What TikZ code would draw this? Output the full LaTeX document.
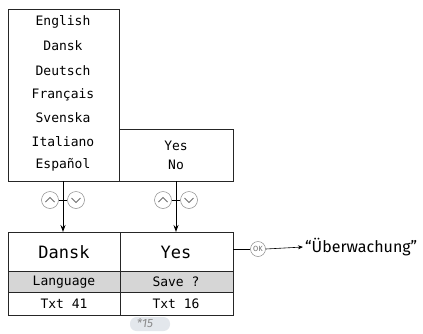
\documentclass[tikz,border=0pt]{standalone}
\usepackage{fontspec}
\setmainfont{Fira Sans}
\newfontfamily\lcd{DejaVu Sans Mono}
\usetikzlibrary{arrows.meta}
\definecolor{greyrow}{HTML}{D6D6D6}
\definecolor{circ}{HTML}{8A8A8A}
\definecolor{pill}{HTML}{E3E7EC}
\tikzset{
  box/.style={draw=black!85, line width=0.9pt},
  lcdtxt/.style={font=\lcd\fontsize{13}{13}\selectfont, inner sep=0pt},
  lcdbig/.style={font=\lcd\fontsize{17}{17}\selectfont, inner sep=0pt},
  btn/.style={circle, draw=circ, line width=0.5pt, minimum size=17pt, inner sep=0pt},
  arr/.style={-{Stealth[length=7pt,width=5pt]}, line width=0.9pt},
  thinarr/.style={-{Stealth[length=5pt,width=4pt]}, line width=0.6pt}
}
\begin{document}
\begin{tikzpicture}[x=1pt,y=-1pt]
\useasboundingbox (0,0) rectangle (423,333);
% top boxes
\draw[box] (8,9) rectangle (119,181);
\draw[box] (119,129) rectangle (233,181);
\coordinate (lb) at (63,181);
\coordinate (rb) at (176,181);
\foreach \t/\y in {English/22,Dansk/46,Deutsch/71,Français/95,Svenska/118,Italiano/142,Español/165}
  \node[lcdtxt] (l-\t) at (63,\y) {\t};
\node[lcdtxt] (yes) at (176,146) {Yes};
\node[lcdtxt] (no) at (176,165) {No};
% bottom table
\fill[greyrow] (8,271) rectangle (233,292);
\draw[box] (8,232) rectangle (233,315);
\draw[box] (8,271) -- (233,271);
\draw[box] (8,292) -- (233,292);
\draw[box] (120,232) -- (120,315);
\coordinate (lt) at (63,232);
\coordinate (rt) at (176,232);
\node[lcdbig] (dansk) at (64,252) {Dansk};
\node[lcdbig] (yesb) at (176,252) {Yes};
\node[lcdtxt] (lang) at (64,282) {Language};
\node[lcdtxt] (save) at (176,282) {Save ?};
\node[lcdtxt] (t41) at (64,304) {Txt 41};
\node[lcdtxt] (t16) at (176,304) {Txt 16};
% arrows with buttons
\foreach \n/\x in {l/63,r/176}{
  \node[btn] (\n up) at (\x-13,200) {};
  \node[btn] (\n dn) at (\x+13,200) {};
  \draw[circ!80!black, line width=0.8pt] ([xshift=-4.5pt,yshift=-2pt]\n up.center) -- ([yshift=2.5pt]\n up.center) -- ([xshift=4.5pt,yshift=-2pt]\n up.center);
  \draw[circ!80!black, line width=0.8pt] ([xshift=-4.5pt,yshift=2pt]\n dn.center) -- ([yshift=-2.5pt]\n dn.center) -- ([xshift=4.5pt,yshift=2pt]\n dn.center);
  \draw[line width=0.6pt] (\n up.east) -- (\n dn.west);
}
\draw[arr] (lb) -- (lt);
\draw[arr] (rb) -- (rt);
% OK
\coordinate (tr) at (233,249);
\node[btn, minimum size=15pt, font=\fontsize{7.5}{7.5}\selectfont, text=circ!80!black] (ok) at (258,249) {OK};
\node[anchor=west, font=\fontsize{16}{16}\selectfont, inner sep=0pt] (uw) at (305,247) {“Überwachung”};
\draw[line width=0.6pt] (tr) -- (ok.west);
\draw[thinarr] (ok.east) -- ([xshift=-2pt]uw.west);
% footnote
\node[fill=pill, rounded corners=6.5pt, minimum width=40pt, minimum height=14pt, inner sep=0pt] (fn) at (150,324) {};
\node[text=black!45, font=\itshape\fontsize{12}{12}\selectfont, inner sep=0pt] (fnt) at (145,323) {*15};
\end{tikzpicture}
\end{document}
